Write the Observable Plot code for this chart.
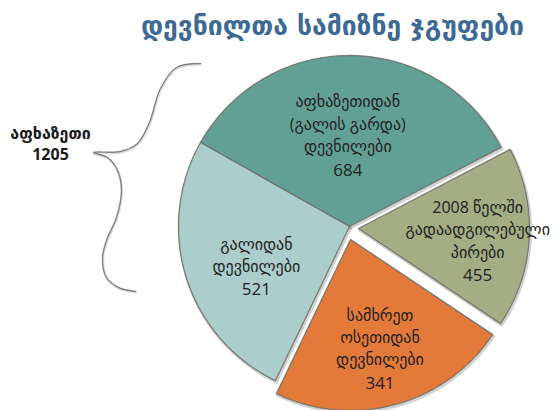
<!DOCTYPE html>
<html>
<head>
<meta charset="utf-8">
<script src="https://cdn.jsdelivr.net/npm/d3@7"></script>
<script src="https://cdn.jsdelivr.net/npm/@observablehq/plot@0.6"></script>
<style>
  html, body { margin: 0; padding: 0; background: #ffffff; }
  #wrap { position: relative; width: 557px; height: 410px; overflow: hidden; }
  #title {
    height: 48px; line-height: 52px; padding-left: 141px;
    font-family: "DejaVu Sans", sans-serif; font-weight: bold; font-size: 26.5px;
    color: #3d6a94; white-space: nowrap; box-sizing: border-box;
  }
</style>
</head>
<body>
<div id="wrap">
  <div id="title"></div>
  <div id="chart"></div>
</div>
<script>
// ---- data ----
const title = "დევნილთა სამიზნე ჯგუფები";
const categories = [
  "აფხაზეთიდან\n(გალის გარდა)\nდევნილები",
  "2008 წელში\nგადაადგილებული\nპირები",
  "სამხრეთ\nოსეთიდან\nდევნილები",
  "გალიდან\nდევნილები"
];
const values = [684, 455, 341, 521];          // printed values
// slice sizes as drawn in the source graphic (its two right-hand slices are drawn swapped)
const drawnValues = [684, 341, 455, 521];
const groupLabel = "აფხაზეთი";
const groupMembers = [0, 3];

// ---- style / layout ----
const colors = ["#62a096", "#a4ad84", "#e47a3a", "#abcdcc"];
const W = 557, H = 362;
const R = 171;                 // pie radius in px
const cx = 349, cy = 178;      // pie centre in px
const startDeg = -60.6;
const offsetPx = [[0, 0], [9, 2], [1, 13], [0, 0]];   // exploded slices (px, screen)
const labelR = [0.538, 0.70, 0.655, 0.59];
const labelA = [-2, 2.3, 0, -5.2];            // angular nudge (deg)
const L = 22.5;                               // label line spacing (px)
const numGap = 2;                             // extra space above the value line (px)

document.getElementById("title").textContent = title;

const pie = d3.pie().sort(null)
  .startAngle(startDeg * Math.PI / 180)
  .endAngle(startDeg * Math.PI / 180 + 2 * Math.PI);
const arcs = pie(drawnValues);

const pts = [];
const names = [], nums = [];
arcs.forEach((a, i) => {
  const ox = offsetPx[i][0] / R, oy = -offsetPx[i][1] / R;
  const n = Math.max(2, Math.ceil((a.endAngle - a.startAngle) / (Math.PI / 180)));
  pts.push({k: categories[i], x: ox, y: oy});
  for (let j = 0; j <= n; j++) {
    const t = a.startAngle + (a.endAngle - a.startAngle) * j / n;
    pts.push({k: categories[i], x: ox + Math.sin(t), y: oy + Math.cos(t)});
  }
  pts.push({k: categories[i], x: ox, y: oy});
  const mid = (a.startAngle + a.endAngle) / 2 + labelA[i] * Math.PI / 180;
  const px = ox + labelR[i] * Math.sin(mid), py = oy + labelR[i] * Math.cos(mid);
  const k = categories[i].split("\n").length;
  names.push({x: px, y: py + (L / 2 + 0.5) / R, text: categories[i]});
  nums.push({x: px, y: py - (k * L / 2 + numGap) / R, text: String(values[i])});
});

const groupTotal = d3.sum(groupMembers, i => values[i]);

// brace: hand-drawn style curly bracket (layout, px)
const braceShape = [
  [200, 63], [176, 67], [160, 88], [149, 122], [137, 143], [120, 151], [93, 152],
  [107, 157], [117, 170], [121, 190], [116, 217], [106, 240], [102, 258], [106, 277], [118, 287], [135, 291]
];
const toUnit = ([px, py]) => ({x: (px - cx) / R, y: (cy + 48 - py) / R});
const brace = braceShape.map(toUnit);
const groupPos = [{...toUnit([50, 142]), text: groupLabel + "\n" + groupTotal}];

const font = "'Open Sans', 'DejaVu Sans', sans-serif";
const chart = Plot.plot({
  width: W, height: H,
  margin: 0,
  x: {domain: [-cx / R, (W - cx) / R], axis: null},
  y: {domain: [(cy - H) / R, cy / R], axis: null},
  color: {domain: categories, range: colors},
  marks: [
    Plot.line(pts, {x: "x", y: "y", z: "k", stroke: "#000", strokeOpacity: 0.18, strokeWidth: 3, dx: 1, dy: 1.5}),
    Plot.line(pts, {x: "x", y: "y", z: "k", fill: "k", stroke: "#6e6f66", strokeWidth: 1.3, strokeOpacity: 0.85}),
    Plot.line(brace, {x: "x", y: "y", curve: "catmull-rom", stroke: "#000", strokeOpacity: 0.12, strokeWidth: 2.5, dx: 0.5, dy: 1}),
    Plot.line(brace, {x: "x", y: "y", curve: "catmull-rom", stroke: "#858580", strokeWidth: 1.4}),
    Plot.text(names, {x: "x", y: "y", text: "text", fontSize: 16, lineHeight: L / 16, fill: "#222", fontFamily: font}),
    Plot.text(nums, {x: "x", y: "y", text: "text", fontSize: 17, fill: "#222", fontFamily: font}),
    Plot.text(groupPos, {x: "x", y: "y", text: "text", fontSize: 16, fontWeight: "bold", lineHeight: 1.35, fill: "#1a1a1a", fontFamily: font})
  ]
});
document.getElementById("chart").appendChild(chart);
</script>
</body>
</html>
